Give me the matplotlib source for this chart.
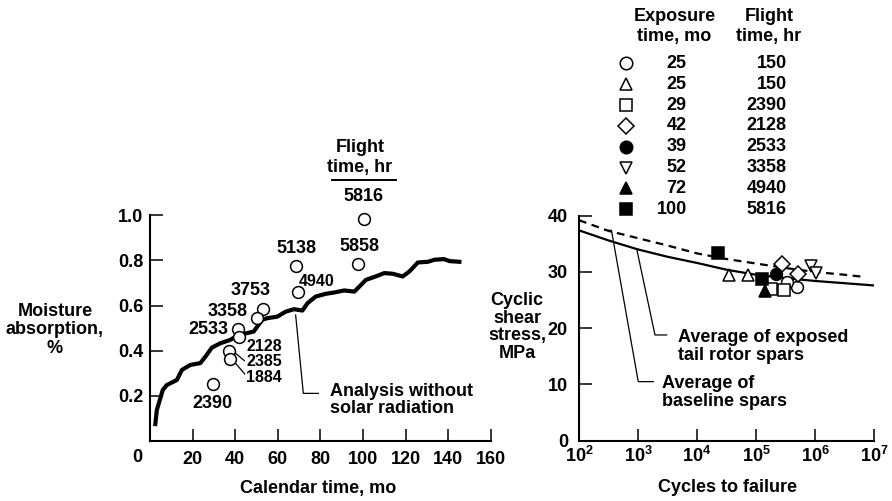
import numpy as np
import matplotlib
matplotlib.use('Agg')
from matplotlib import pyplot as plt

plt.rcParams.update({
    'font.family': ['Liberation Sans', 'DejaVu Sans'],
    'font.weight': 'bold',
    'font.size': 13,
    'mathtext.fontset': 'custom',
    'mathtext.rm': 'Liberation Sans:bold',
    'mathtext.bf': 'Liberation Sans:bold',
    'axes.linewidth': 1.5,
})

# --- moisture absorption vs calendar time ---
analysis_t = [2.5, 3.2, 6.0, 7.9, 12.6, 15.0, 18.9, 23.6, 25.5, 29.1, 33.0, 37.7, 41.7,
              45.6, 48.7, 52.7, 55.0, 59.8, 63.7, 67.6, 71.6, 73.9, 77.8, 82.5, 86.5,
              91.2, 96.0, 101.4, 106.0, 110.0, 114.0, 118.7, 121.8, 125.8, 130.5,
              133.6, 138.0, 140.7, 145.3]
analysis_m = [0.075, 0.137, 0.226, 0.248, 0.270, 0.315, 0.337, 0.345, 0.367, 0.414,
              0.433, 0.448, 0.470, 0.478, 0.485, 0.537, 0.544, 0.551, 0.573, 0.584,
              0.578, 0.610, 0.640, 0.652, 0.658, 0.667, 0.662, 0.714, 0.729, 0.744,
              0.741, 0.729, 0.751, 0.791, 0.794, 0.803, 0.806, 0.797, 0.794]

spar_t = [100.6, 97.8, 68.7, 69.5, 53.2, 50.2, 41.3, 41.7, 37.3, 37.6, 29.5]
spar_m = [0.982, 0.784, 0.775, 0.658, 0.587, 0.543, 0.497, 0.459, 0.398, 0.364, 0.252]
spar_hr = ['5816', '5858', '5138', '4940', '3753', '3358', '2533', '2128', '2385', '1884', '2390']
# label offsets (pixels) and font size for each flight-time label
lab_dx = [-1, 1, 0, 19, -13, -29, -30, 26, 35, 34, 0]
lab_dy = [23, 18, 18, 11, 18, 7, -1, -9, -10, -19, -19]
lab_fs = [13, 13, 13, 11.5, 13, 13, 13, 11.5, 11.5, 11.5, 13]

# --- fatigue: cyclic shear stress vs cycles ---
base_logN = [2.0, 2.5, 3.0, 3.5, 4.0, 4.5, 5.0, 5.5, 6.0, 6.5, 7.0]
base_S = [37.4, 35.6, 34.0, 32.7, 31.6, 30.4, 29.5, 28.9, 28.4, 28.0, 27.6]
exp_logN = [2.0, 2.5, 3.0, 3.5, 4.0, 4.5, 5.0, 5.5, 6.0, 6.5, 6.85]
exp_S = [39.2, 37.3, 36.0, 34.7, 33.3, 32.3, 31.5, 30.7, 30.0, 29.5, 29.1]

# (marker, filled, cycles, stress)
fatigue_pts = [
    ('o', False, [4.9e5, 3.3e5], [27.4, 28.3]),
    ('^', False, [3.5e4, 7.2e4], [29.4, 29.4]),
    ('s', False, [1.8e5, 3.0e5], [26.9, 26.8]),
    ('D', False, [2.75e5, 5.2e5], [31.4, 29.6]),
    ('v', False, [8.5e5, 1.05e6], [31.0, 29.8]),
    ('^', True, [1.4e5], [26.7]),
    ('s', True, [2.3e4, 1.25e5], [33.4, 28.8]),
    ('o', True, [2.2e5], [29.6]),
]

legend_mk = ['o', '^', 's', 'D', 'o', 'v', '^', 's']
legend_fill = [False, False, False, False, True, False, True, True]
exposure_mo = [25, 25, 29, 42, 39, 52, 72, 100]
flight_hr = [150, 150, 2390, 2128, 2533, 3358, 4940, 5816]

W, H = 892, 501
fig = plt.figure(figsize=(W / 100, H / 100), dpi=100)


def px_box(x0, x1, y_top, y_bot):
    return [x0 / W, 1 - y_bot / H, (x1 - x0) / W, (y_bot - y_top) / H]


def style(ax, pad_x, pad_y):
    for s in ('top', 'right'):
        ax.spines[s].set_visible(False)
    ax.tick_params(direction='in', length=9, width=1.1, colors='black')
    ax.tick_params(axis='x', pad=pad_x)
    ax.tick_params(axis='y', pad=pad_y)
    ax.tick_params(which='minor', length=0)


# left panel
ax1 = fig.add_axes(px_box(150, 490.7, 215.3, 441))
ax1.set_xlim(0, 160)
ax1.set_ylim(0, 1.0)
ax1.set_xticks(range(20, 161, 20))
ax1.set_yticks([0.2, 0.4, 0.6, 0.8, 1.0])
ax1.set_yticklabels(['0.2', '0.4', '0.6', '0.8', '1.0'])
style(ax1, 7.5, 5)
ax1.annotate('0', xy=(0, 0), xytext=(-13, -17), textcoords='offset pixels',
             ha='center', va='center', fontsize=13)

ax1.plot(analysis_t, analysis_m, color='black', lw=3.0, solid_joinstyle='round', zorder=2)
ax1.plot(spar_t, spar_m, 'o', ms=8.5, mfc='white', mec='black', mew=1.1, zorder=3,
         clip_on=False)
for t, m, h, dx, dy, fs in zip(spar_t, spar_m, spar_hr, lab_dx, lab_dy, lab_fs):
    ax1.annotate(h, xy=(t, m), xytext=(dx, dy), textcoords='offset pixels',
                 ha='center', va='center', fontsize=fs)

# leaders for the two crowded labels
ax1.plot([39.3, 44.3], [0.396, 0.356], color='black', lw=0.9)
ax1.plot([40.1, 44.5], [0.345, 0.297], color='black', lw=0.9)

ax1.plot([68.4, 72.0, 79.1], [0.558, 0.211, 0.211], color='black', lw=0.9)
ax1.text(84.5, 0.181, 'Analysis without\nsolar radiation', ha='left', va='center',
         fontsize=13, linespacing=1.05)

fig.text(360 / W, 1 - 157.5 / H, 'Flight\ntime, hr', ha='center', va='center',
         fontsize=13, linespacing=1.25)
fig.add_artist(plt.Line2D([331.7 / W, 396 / W], [1 - 180 / H, 1 - 180 / H],
                          color='black', lw=1.4))

fig.text(55 / W, 1 - 330 / H, 'Moisture\nabsorption,\n%', ha='center', va='center',
         fontsize=13, linespacing=1.15)
fig.text(318 / W, 1 - 488 / H, 'Calendar time, mo', ha='center', va='center', fontsize=13)

# right panel
ax2 = fig.add_axes(px_box(579, 874, 215.7, 440.7))
ax2.set_xscale('log')
ax2.set_xlim(1e2, 1e7)
ax2.set_ylim(0, 40)
ax2.set_xticks([10.0 ** k for k in range(2, 8)])
ax2.set_xticklabels([r'$10^{%d}$' % k for k in range(2, 8)])
ax2.set_yticks([0, 10, 20, 30, 40])
style(ax2, 4, 8)

ax2.plot(10.0 ** np.array(base_logN), base_S, color='black', lw=1.6, zorder=2)
ax2.plot(10.0 ** np.array(exp_logN), exp_S, color='black', lw=1.6,
         dashes=(3.5, 2.5), zorder=2)

for mk, filled, n, s in fatigue_pts:
    ax2.plot(n, s, mk, ms=8.5 if mk != 'D' else 8, mfc='black' if filled else 'white',
             mec='black', mew=1.1, zorder=4 if filled else 3, clip_on=False)

ax2.plot([275, 355, 1010, 1820], [37.4, 37.4, 10.5, 10.5], color='black', lw=0.9)
ax2.plot([950, 1940, 3060], [34.1, 18.8, 18.8], color='black', lw=0.9)
ax2.text(4790, 16.8, 'Average of exposed\ntail rotor spars', ha='left', va='center',
         fontsize=13, linespacing=1.05)
ax2.text(2520, 8.6, 'Average of\nbaseline spars', ha='left', va='center',
         fontsize=13, linespacing=1.05)

fig.text(517 / W, 1 - 327 / H, 'Cyclic\nshear\nstress,\nMPa', ha='center', va='center',
         fontsize=13, linespacing=1.05)
fig.text(727.5 / W, 1 - 488 / H, 'Cycles to failure', ha='center', va='center', fontsize=13)

# symbol table above the right panel
tab = fig.add_axes([0, 0, 1, 1], facecolor='none')
tab.set_xlim(0, W)
tab.set_ylim(H, 0)
tab.axis('off')
tab.text(674.5, 26.5, 'Exposure\ntime, mo', ha='center', va='center', fontsize=13,
         linespacing=1.2)
tab.text(769, 26.5, 'Flight\ntime, hr', ha='center', va='center', fontsize=13,
         linespacing=1.2)
for i, (mk, filled, mo, hr) in enumerate(zip(legend_mk, legend_fill, exposure_mo, flight_hr)):
    y = 63.3 + i * 20.86
    tab.plot(626, y, mk, ms=9 if mk != 'D' else 8.5, mfc='black' if filled else 'white',
             mec='black', mew=1.1)
    tab.text(686.7, y, str(mo), ha='right', va='center', fontsize=13)
    tab.text(786.7, y, str(hr), ha='right', va='center', fontsize=13)

fig.savefig('out.png', dpi=100)
